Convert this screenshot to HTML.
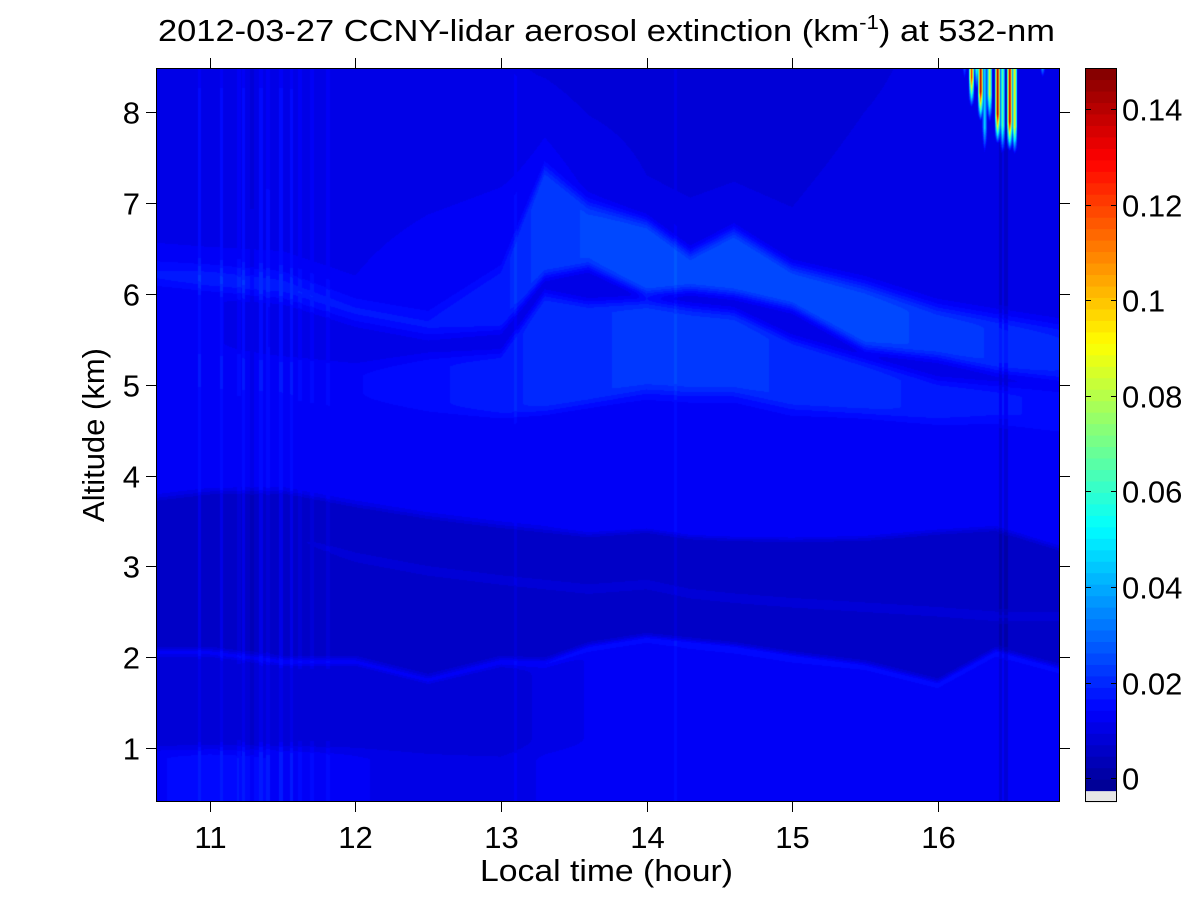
<!DOCTYPE html>
<html><head><meta charset="utf-8">
<style>
html,body{margin:0;padding:0;background:#fff;}
#wrap{position:relative;width:1200px;height:901px;overflow:hidden;font-family:"Liberation Sans",Arial,sans-serif;}
#heat{position:absolute;left:156px;top:68px;}
svg{position:absolute;left:0;top:0;}
text{font-family:"Liberation Sans",Arial,sans-serif;fill:#000;}
</style></head>
<body>
<div id="wrap">
<canvas id="heat" width="904" height="734"></canvas>
<svg id="ov" width="1200" height="901">
  <text x="158" y="41" font-size="31" textLength="897" lengthAdjust="spacingAndGlyphs">2012-03-27 CCNY-lidar aerosol extinction (km<tspan font-size="20" dy="-12">-1</tspan><tspan dy="12">) at 532-nm</tspan></text>
  <text x="480" y="881" font-size="31" textLength="253" lengthAdjust="spacingAndGlyphs">Local time (hour)</text>
  <text transform="translate(104,435) rotate(-90)" font-size="31" text-anchor="middle">Altitude (km)</text>
  <g id="axes"></g>
  <g id="cbar"></g>
</svg>
</div>
<script>
// ---- data ----
const nodeT   = [10.63,11.0,11.5,12.0,12.5,13.0,13.3,13.6,14.0,14.3,14.6,15.0,15.5,16.0,16.4,16.84];
const surfTop = [1.0,1.0,1.0,1.0,0.95,0.9,1.0,1.0,1.0,1.0,1.0,1.0,1.0,1.0,1.0,1.0];
const surfVal = [0.014,0.015,0.014,0.012,0.011,0.011,0.012,0.013,0.013,0.013,0.013,0.013,0.013,0.013,0.013,0.013];
const lowVal  = [0.007,0.007,0.007,0.007,0.007,0.008,0.010,0.012,0.012,0.013,0.013,0.013,0.012,0.012,0.012,0.012];
const line2   = [2.05,2.05,1.95,1.95,1.75,1.95,1.93,2.1,2.2,2.15,2.1,2.0,1.9,1.7,2.05,1.86];
const pblTop  = [3.75,3.82,3.83,3.68,3.55,3.45,3.4,3.35,3.4,3.33,3.31,3.3,3.31,3.38,3.42,3.2];
const pblVal  = [0.006,0.006,0.006,0.006,0.006,0.006,0.006,0.006,0.006,0.006,0.006,0.006,0.006,0.006,0.006,0.006];
const line3   = [3.5,3.45,3.35,3.1,2.95,2.85,2.8,2.75,2.8,2.7,2.65,2.6,2.55,2.5,2.45,2.45];
const line3S  = [0,0,0,0.003,0.003,0.003,0.003,0.003,0.003,0.003,0.003,0.003,0.003,0.003,0.003,0.003];
const resVal  = [0.012,0.012,0.012,0.012,0.012,0.012,0.012,0.013,0.014,0.014,0.014,0.014,0.013,0.013,0.013,0.013];
const bandLBot= [5.0,4.95,4.9,4.8,4.7,4.65,4.7,4.8,4.93,4.9,4.9,4.75,4.68,4.6,4.6,4.5];
const bandLTop= [5.4,5.35,5.3,5.2,5.3,5.35,6.0,5.9,5.93,5.85,5.8,5.5,5.27,5.05,5.0,4.95];
const bandLVal= [0.013,0.013,0.013,0.014,0.016,0.018,0.020,0.021,0.022,0.022,0.022,0.021,0.020,0.018,0.017,0.016];
const gapVal  = [0.012,0.012,0.011,0.011,0.011,0.010,0.010,0.010,0.010,0.010,0.010,0.010,0.010,0.010,0.010,0.010];
const bandUBot= [6.1,6.05,5.95,5.7,5.55,5.6,6.2,6.3,6.0,6.05,6.0,5.85,5.4,5.3,5.15,5.05];
const bandUTop= [6.35,6.3,6.25,5.95,5.8,6.3,7.4,7.0,6.8,6.45,6.7,6.3,6.1,5.85,5.75,5.65];
const bandUVal= [0.017,0.018,0.017,0.017,0.017,0.018,0.023,0.024,0.026,0.026,0.026,0.026,0.025,0.023,0.021,0.019];
const midVal  = [0.012,0.012,0.012,0.012,0.013,0.013,0.013,0.012,0.010,0.010,0.010,0.010,0.011,0.011,0.011,0.011];
const topVal  = [0.010,0.010,0.010,0.010,0.010,0.010,0.009,0.008,0.008,0.008,0.008,0.008,0.009,0.010,0.010,0.010];
// vertical stripes (time, value offset)
const stripeT = [10.93,11.08,11.2,11.23,11.29,11.35,11.4,11.49,11.56,11.62,11.7,11.81,13.1,14.2,16.43,16.47];
const stripeD = [0.004,0.004,0.002,0.004,-0.002,0.004,0.003,0.004,0.004,0.002,0.002,0.002,0.002,0.002,-0.004,-0.004];
// high-altitude spikes (time, bottom altitude, peak value)
const spikeT   = [16.185,16.233,16.268,16.295,16.323,16.357,16.412,16.446,16.495,16.529,16.721];
const spikeBot = [8.29,8.03,8.2,7.88,7.48,7.85,7.63,7.5,7.55,7.5,8.35];
const spikePeak= [0.05,0.13,0.08,0.15,0.05,0.09,0.15,0.07,0.15,0.1,0.1];
// axis ticks
const xTicks = [11,12,13,14,15,16];
const yTicks = [1,2,3,4,5,6,7,8];
const cTicks = [0,0.02,0.04,0.06,0.08,0.1,0.12,0.14];
const cTickLabels = ["0","0.02","0.04","0.06","0.08","0.1","0.12","0.14"];

// ---- scales ----
const PL=156, PR=1060, PT=68, PB=802;
const X0=10.63, X1=16.84, Y0=0.405, Y1=8.49;
const C0=-0.005, C1=0.1486, NLEV=64;
function xs(t){return PL+(t-X0)/(X1-X0)*(PR-PL);}
function ys(a){return PB-(a-Y0)/(Y1-Y0)*(PB-PT);}
function cs(v){return PB-(v-C0)/(C1-C0)*(PB-PT);}
function jet(i){
  if(i<=0) return [230,230,230];
  const x=(i+0.5)/NLEV;
  const f=v=>Math.max(0,Math.min(1,v));
  const r=f(1.5-Math.abs(4*x-3)), g=f(1.5-Math.abs(4*x-2)), b=f(1.5-Math.abs(4*x-1));
  return [Math.round(r*255),Math.round(g*255),Math.round(b*255)];
}
function level(v){let i=Math.floor((v-C0)/(C1-C0)*NLEV);return Math.max(0,Math.min(NLEV-1,i));}
function interp(arr,t){
  if(t<=nodeT[0]) return arr[0];
  for(let i=0;i<nodeT.length-1;i++){
    if(t<=nodeT[i+1]){const f=(t-nodeT[i])/(nodeT[i+1]-nodeT[i]);return arr[i]+(arr[i+1]-arr[i])*f;}
  }
  return arr[arr.length-1];
}
function sm(a,e,w){const z=(a-e)/w; return z<=-1?0:z>=1?1:0.5+0.5*Math.sin(z*Math.PI/2);}

// ---- heatmap ----
const cv=document.getElementById('heat');
const ctx=cv.getContext('2d');
const W=cv.width,H=cv.height;
const img=ctx.createImageData(W,H);
const names={surfTop,surfVal,lowVal,line2,pblTop,pblVal,line3,line3S,resVal,bandLBot,bandLTop,bandLVal,gapVal,bandUBot,bandUTop,bandUVal,midVal,topVal};
for(let px=0;px<W;px++){
  const t=X0+(px+0.5)/W*(X1-X0);
  const P={};
  for(const k in names) P[k]=interp(names[k],t);
  let sd=0;
  for(let s=0;s<stripeT.length;s++){const d=Math.abs(t-stripeT[s]); if(d<0.012) sd+=stripeD[s];}
  for(let py=0;py<H;py++){
    const a=Y1-(py+0.5)/H*(Y1-Y0);
    let v=P.surfVal;
    v+= (P.lowVal-v)*sm(a,P.surfTop,0.12);
    v+= (P.pblVal-v)*sm(a,P.line2,0.08);
    v+= (P.resVal-v)*sm(a,P.pblTop,0.06);
    v+= (P.bandLVal-v)*sm(a,P.bandLBot,0.12);
    v+= (P.gapVal-v)*sm(a,P.bandLTop,0.12);
    const up=P.midVal+(P.topVal-P.midVal)*Math.max(0,Math.min(1,(a-P.bandUTop)/(Y1-P.bandUTop+1e-6)));
    const inU=sm(a,P.bandUBot,0.12)*(1-sm(a,P.bandUTop,0.15));
    const above=sm(a,P.bandUTop,0.15);
    v = v*(1-inU-above*(1-inU)) + P.bandUVal*inU + up*above*(1-inU);
    v+=0.006*Math.exp(-Math.pow((a-P.line2)/0.05,2));
    v+=P.line3S*Math.exp(-Math.pow((a-P.line3)/0.05,2));
    v+=sd;
    for(let s=0;s<spikeT.length;s++){
      const d=Math.abs(t-spikeT[s]);
      if(d<0.018 && a>spikeBot[s]){
        const r=Math.min(1,(a-spikeBot[s])/0.35);
        v=Math.max(v,spikePeak[s]*r*(1-d/0.025));
      }
    }
    const c=jet(level(v));
    const o=(py*W+px)*4;
    img.data[o]=c[0];img.data[o+1]=c[1];img.data[o+2]=c[2];img.data[o+3]=255;
  }
}
ctx.putImageData(img,0,0);

// ---- axes ----
const NS='http://www.w3.org/2000/svg';
function mk(tag,attrs,parent){const e=document.createElementNS(NS,tag);for(const k in attrs)e.setAttribute(k,attrs[k]);parent.appendChild(e);return e;}
const ax=document.getElementById('axes');
const frame=mk('rect',{x:PL+0.5,y:PT+0.5,width:PR-PL-1,height:PB-PT-1,fill:'none',stroke:'#000','stroke-width':1},ax);


xTicks.forEach(v=>{
  const x=Math.round(xs(v))+0.5;
  const t1=mk('line',{x1:x,x2:x,y1:PB,y2:PB+10,stroke:'#000'},ax);
  
  
  const t2=mk('line',{x1:x,x2:x,y1:PT-10,y2:PT,stroke:'#000'},ax);
  
  
  const lb=mk('text',{x:x,y:848,'font-size':31,'text-anchor':'middle'},ax);
  lb.textContent=String(v);
  
  
});
yTicks.forEach(v=>{
  const y=Math.round(ys(v))+0.5;
  const t1=mk('line',{x1:PL-10,x2:PL,y1:y,y2:y,stroke:'#000'},ax);
  
  
  const t2=mk('line',{x1:PR,x2:PR+10,y1:y,y2:y,stroke:'#000'},ax);
  
  
  const lb=mk('text',{x:140,y:y+11,'font-size':31,'text-anchor':'end'},ax);
  lb.textContent=String(v);
  
  
});

// ---- colorbar ----
const cb=document.getElementById('cbar');
const CL=1085, CR=1117;
for(let i=0;i<NLEV;i++){
  const v0=C0+i*(C1-C0)/NLEV, v1=C0+(i+1)*(C1-C0)/NLEV;
  const c=jet(i);
  const y1=cs(v1), y0=cs(v0);
  const r=mk('rect',{x:CL,y:y1,width:CR-CL,height:y0-y1+0.6,fill:`rgb(${c[0]},${c[1]},${c[2]})`},cb);
  
  
}
const cf=mk('rect',{x:CL+0.5,y:PT+0.5,width:CR-CL-1,height:PB-PT-1,fill:'none',stroke:'#000'},cb);


cTicks.forEach((v,i)=>{
  const y=Math.round(cs(v))+0.5;
  const a=mk('line',{x1:CL,x2:CL+6,y1:y,y2:y,stroke:'#000'},cb);
  
  
  const b=mk('line',{x1:CR-6,x2:CR,y1:y,y2:y,stroke:'#000'},cb);
  
  
  const lb=mk('text',{x:1122,y:y+11,'font-size':31},cb);
  lb.textContent=cTickLabels[i];
  
  
});
</script>
</body></html>
